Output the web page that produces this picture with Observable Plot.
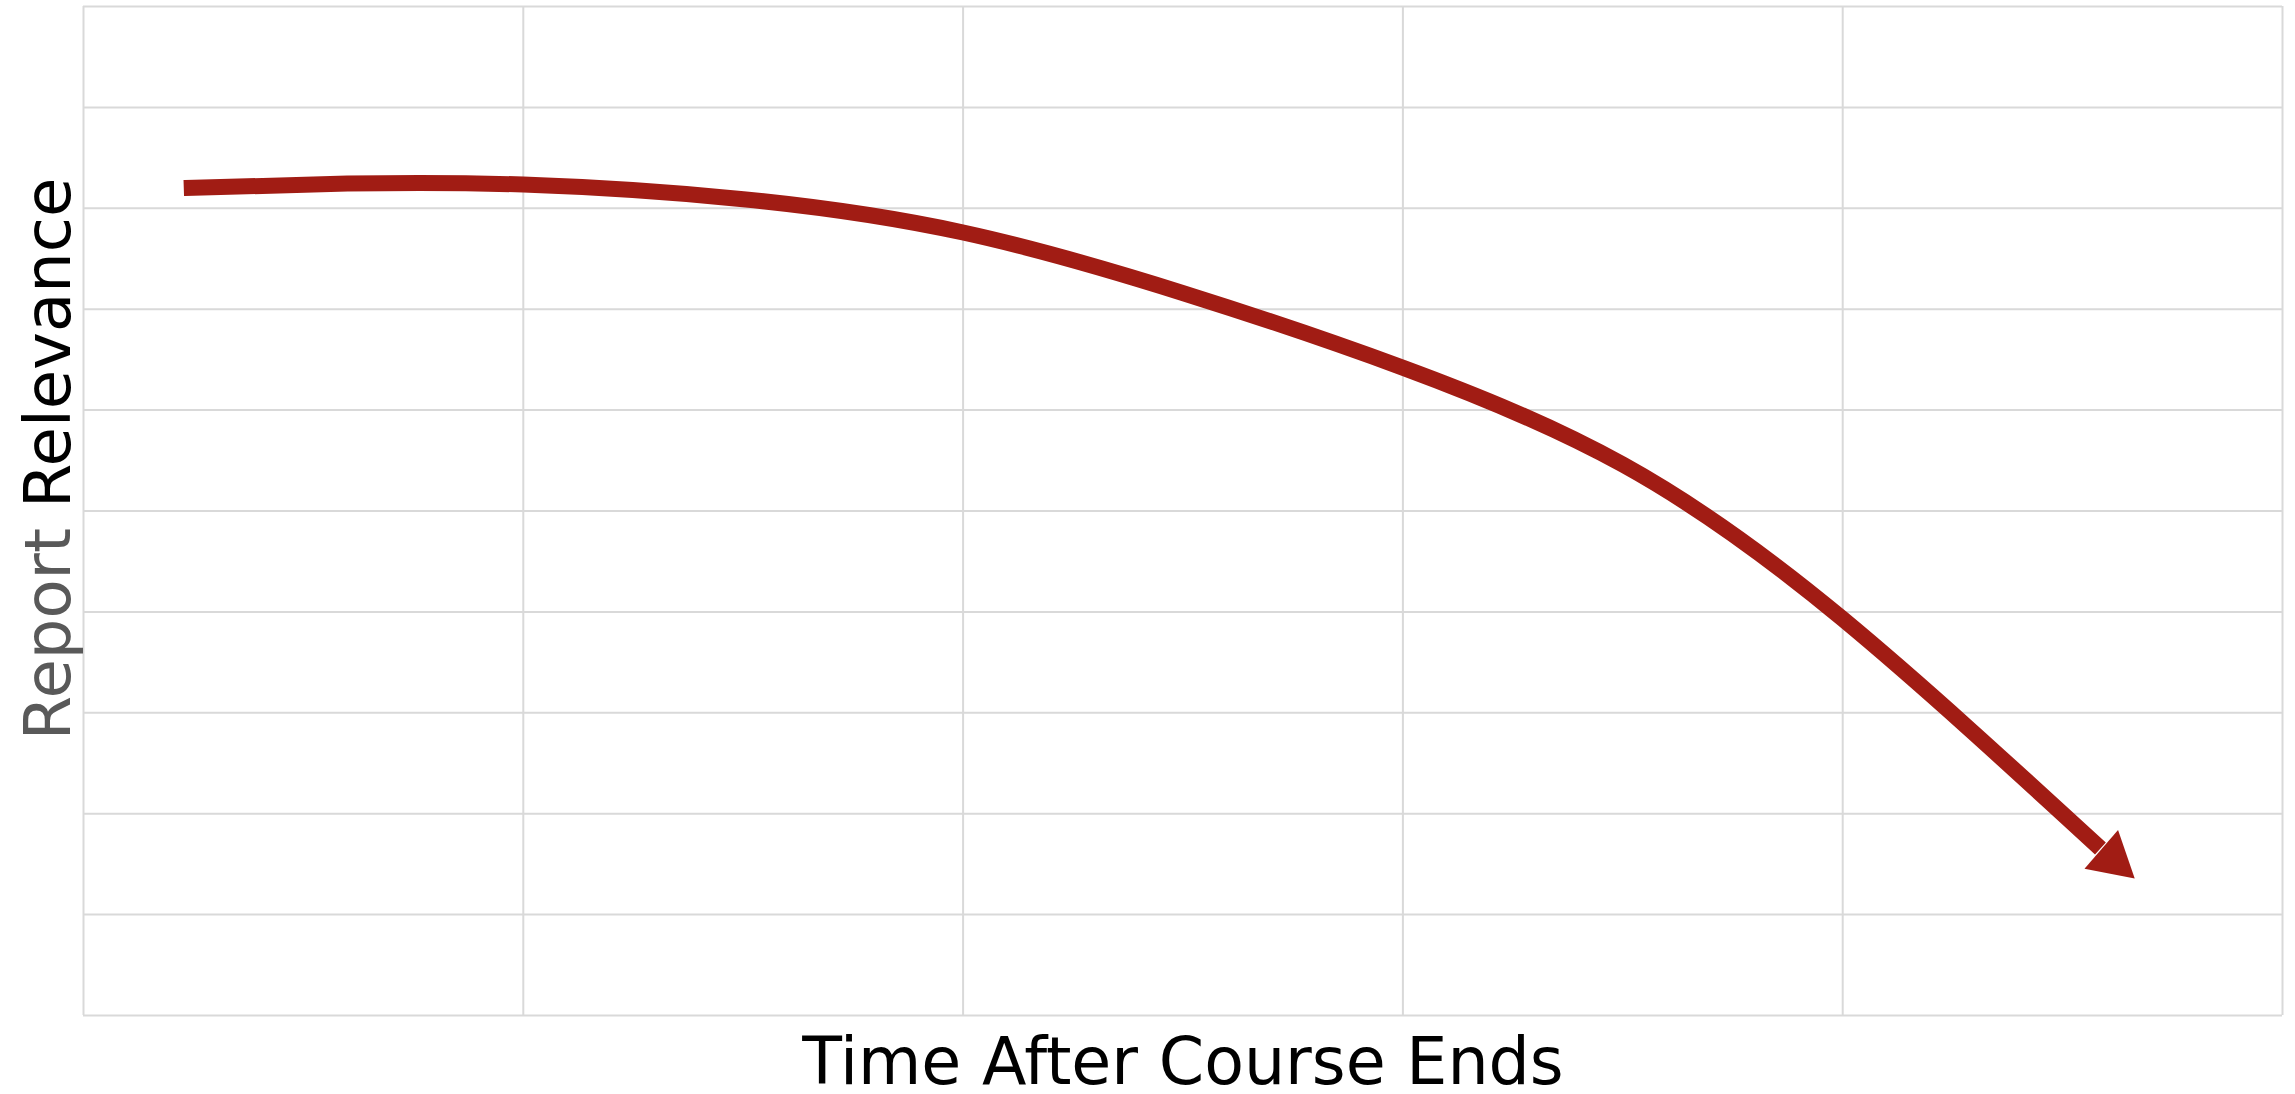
<!DOCTYPE html>
<html>
<head>
<meta charset="utf-8">
<script src="https://cdn.jsdelivr.net/npm/d3@7"></script>
<script src="https://cdn.jsdelivr.net/npm/@observablehq/plot@0.6"></script>
<style>
  html, body { margin: 0; padding: 0; background: #ffffff; }
  #chart { width: 2295px; height: 1094px; }
</style>
</head>
<body>
<div id="chart"></div>
<script>
// ---- data ----
const xLabel = "Time After Course Ends";
const yLabelGrey = "Report";
const yLabelDark = "Relevance";

const xGrid = [0, 1, 2, 3, 4, 5];
const yGrid = [0, 1, 2, 3, 4, 5, 6, 7, 8, 9, 10];

const timeValues = [0.228, 0.6, 1.0, 1.5, 2.0, 2.5, 3.0, 3.5, 4.0, 4.586];
const relevanceValues = [8.20, 8.245, 8.235, 8.09, 7.76, 7.16, 6.42, 5.46, 3.93, 1.655];

// ---- build ----
const curve = timeValues.map((t, i) => ({ t, r: relevanceValues[i] }));
const head = curve.slice(-1);

const lineColor = "#a11c14";
const gridColor = "#d9d9d9";

const chart = Plot.plot({
  width: 2295,
  height: 1094,
  marginLeft: 83,
  marginRight: 13,
  marginTop: 6,
  marginBottom: 79,
  style: { fontFamily: "'DejaVu Sans', Verdana, sans-serif", background: "#ffffff", overflow: "visible" },
  x: { domain: [0, 5], axis: null },
  y: { domain: [0, 10], axis: null },
  marks: [
    Plot.ruleY(yGrid, { stroke: gridColor, strokeWidth: 2 }),
    Plot.ruleX(xGrid, { stroke: gridColor, strokeWidth: 2 }),
    Plot.line(curve, {
      x: "t", y: "r",
      curve: "natural",
      stroke: lineColor,
      strokeWidth: 16,
      strokeLinecap: "butt",
      strokeLinejoin: "round"
    }),
    Plot.dot(head, {
      x: "t", y: "r",
      symbol: "triangle",
      r: 19,
      rotate: 131,
      dx: 12, dy: 10.5,
      fill: lineColor,
      stroke: "none"
    }),
    Plot.text([xLabel], {
      frameAnchor: "bottom",
      lineAnchor: "bottom",
      dy: 68,
      fontSize: 65,
      fill: "#000000"
    }),
    Plot.text([yLabelDark], {
      frameAnchor: "left",
      lineAnchor: "bottom",
      textAnchor: "start",
      rotate: -90,
      dx: -14,
      dy: -3,
      fontSize: 64,
      fill: "#000000"
    }),
    Plot.text([yLabelGrey], {
      frameAnchor: "left",
      lineAnchor: "bottom",
      textAnchor: "end",
      rotate: -90,
      dx: -14,
      dy: 17,
      fontSize: 64,
      fill: "#595959"
    })
  ]
});

document.getElementById("chart").appendChild(chart);
</script>
</body>
</html>
